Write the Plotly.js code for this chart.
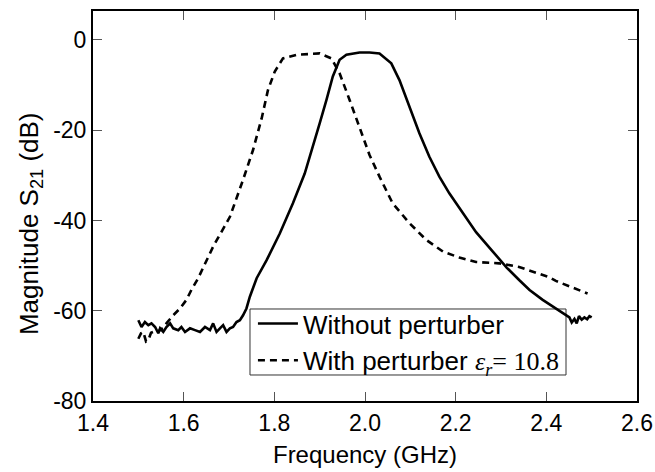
<!DOCTYPE html>
<html>
<head>
<meta charset="utf-8">
<script src="https://cdn.plot.ly/plotly-3.0.1.min.js"></script>
<style>html,body{margin:0;padding:0;background:#fff;}#chart{width:655px;height:472px;}</style>
</head>
<body>
<div id="chart"></div>
<script>
// Without perturber (solid)
const freqWithout = [1.500,1.507,1.5145,1.522,1.529,1.537,1.544,1.548,1.555,1.562,1.570,1.577,1.588,1.595,1.603,1.614,1.625,1.636,1.647,1.658,1.665,1.6725,1.680,1.687,1.6945,1.702,1.709,1.7165,1.724,1.731,1.7385,1.746,1.761,1.783,1.812,1.841,1.867,1.885,1.900,1.915,1.929,1.944,1.959,1.988,2.010,2.032,2.058,2.076,2.098,2.120,2.142,2.164,2.186,2.216,2.245,2.282,2.313,2.340,2.363,2.392,2.421,2.440,2.451,2.456,2.462,2.467,2.472,2.478,2.484,2.490,2.495,2.500];
const s21Without = [-62.1,-63.6,-62.5,-63.2,-62.8,-63.6,-65.0,-63.9,-64.7,-63.6,-62.8,-63.9,-64.3,-63.6,-64.7,-63.9,-64.3,-64.7,-63.6,-64.3,-62.8,-64.7,-63.9,-63.2,-64.7,-63.9,-63.6,-62.5,-62.1,-61.0,-59.5,-56.9,-52.8,-48.8,-42.9,-36.2,-29.6,-23.7,-18.5,-13.3,-8.1,-4.4,-3.3,-2.8,-2.8,-3.0,-5.2,-8.9,-14.8,-20.7,-25.9,-30.3,-34.0,-38.4,-42.6,-46.9,-50.5,-53.2,-55.4,-57.6,-59.5,-60.6,-61.5,-62.6,-61.8,-62.8,-61.2,-62.0,-61.5,-61.9,-61.2,-61.5];

// With perturber (dashed)
const freqWith = [1.500,1.506,1.511,1.517,1.522,1.528,1.533,1.540,1.548,1.555,1.562,1.577,1.592,1.606,1.617,1.632,1.665,1.702,1.731,1.753,1.772,1.786,1.801,1.819,1.849,1.900,1.926,1.944,1.966,1.988,2.010,2.032,2.061,2.098,2.135,2.172,2.208,2.245,2.296,2.340,2.370,2.407,2.421,2.465,2.491];
const s21With = [-66.2,-65.0,-64.7,-66.8,-66.5,-64.9,-64.7,-65.0,-64.3,-63.8,-62.8,-61.0,-59.5,-57.6,-55.4,-52.8,-45.8,-39.2,-31.0,-24.4,-17.4,-11.1,-7.0,-4.1,-3.3,-3.0,-4.1,-7.4,-13.3,-19.6,-25.5,-30.3,-36.2,-40.6,-44.3,-46.9,-48.2,-49.2,-49.5,-50.3,-51.4,-52.6,-53.4,-55.1,-56.2];

const xTickVals = [1.4,1.6,1.8,2.0,2.2,2.4,2.6];
const xTickText = ['1.4','1.6','1.8','2.0','2.2','2.4','2.6'];
const yTickVals = [-80,-60,-40,-20,0];
const yTickText = ['-80','-60','-40','-20','0'];

const FONT = 'Arial, "Liberation Sans", sans-serif';
const SERIF = "'Times New Roman','Liberation Serif',serif";

const traces = [
  {x: freqWithout, y: s21Without, type: 'scatter', mode: 'lines',
   name: 'Without perturber',
   line: {color: '#000', width: 2.6, dash: 'solid'}},
  {x: freqWith, y: s21With, type: 'scatter', mode: 'lines',
   name: 'With perturber <span style="font-family:' + SERIF + '"><i>ε<sub>r</sub></i>= 10.8</span>',
   line: {color: '#000', width: 2.6, dash: '7px,5px'}}
];

const layout = {
  width: 655, height: 472,
  margin: {l: 93, r: 18, t: 11, b: 71},
  paper_bgcolor: '#fff', plot_bgcolor: '#fff',
  font: {family: FONT, size: 23, color: '#000'},
  showlegend: true,
  legend: {x: 0.294, y: 0.151, xanchor: 'left', yanchor: 'middle',
           bgcolor: 'rgba(0,0,0,0)', borderwidth: 0,
           itemwidth: 40,
           font: {family: FONT, size: 26, color: '#000'},
           tracegroupgap: 0, traceorder: 'normal'},
  shapes: [
    {type: 'rect', xref: 'paper', yref: 'paper', layer: 'below',
     x0: 0.2886, x1: 0.8695, y0: 0.0667, y1: 0.2359,
     line: {color: '#333', width: 1}, fillcolor: '#fff'}
  ],
  annotations: [
    {text: 'Magnitude S<sub>21</sub> (dB)', xref: 'paper', yref: 'paper',
     x: -0.116, y: 0.456, xanchor: 'center', yanchor: 'middle',
     textangle: -90, showarrow: false,
     font: {family: FONT, size: 26, color: '#000'}}
  ],
  xaxis: {range: [1.4, 2.6], tickvals: xTickVals, ticktext: xTickText,
          ticks: 'inside', ticklen: 9, tickwidth: 1, tickcolor: '#555',
          showline: true, linecolor: '#000', linewidth: 2, mirror: 'allticks',
          showgrid: false, zeroline: false,
          tickfont: {family: FONT, size: 23},
          title: {text: 'Frequency (GHz)', font: {family: FONT, size: 24}, standoff: 12}},
  yaxis: {range: [-80, 6.4], tickvals: yTickVals, ticktext: yTickText,
          ticks: 'inside', ticklen: 9, tickwidth: 1, tickcolor: '#555',
          showline: true, linecolor: '#000', linewidth: 2, mirror: 'allticks',
          showgrid: false, zeroline: false,
          tickfont: {family: FONT, size: 23}}
};

Plotly.newPlot('chart', traces, layout, {displayModeBar: false, staticPlot: true});
</script>
</body>
</html>
